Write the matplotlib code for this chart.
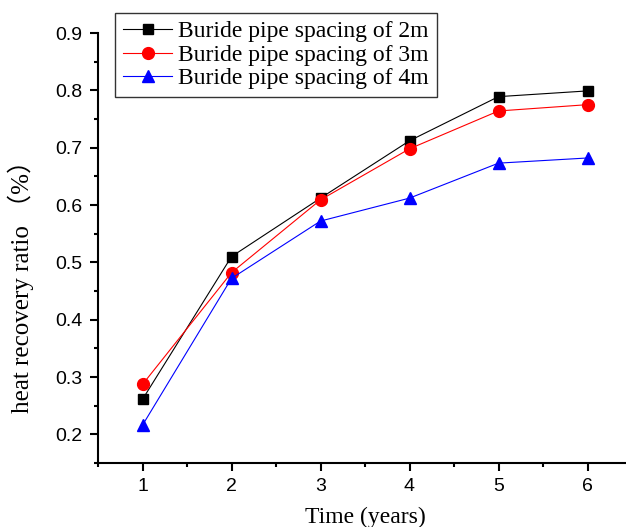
import matplotlib
matplotlib.use("Agg")
import matplotlib.pyplot as plt
from matplotlib.ticker import MultipleLocator

years = [1, 2, 3, 4, 5, 6]
spacing_2m = [0.261, 0.510, 0.612, 0.712, 0.789, 0.799]
spacing_3m = [0.287, 0.482, 0.609, 0.698, 0.764, 0.775]
spacing_4m = [0.216, 0.472, 0.572, 0.612, 0.673, 0.682]
labels = ["Buride pipe spacing of 2m", "Buride pipe spacing of 3m", "Buride pipe spacing of 4m"]

fig = plt.figure(figsize=(6.26, 5.27), dpi=100)
ax = fig.add_axes([98 / 626, 1 - 463 / 527, 534 / 626, 430 / 527])

ax.plot(years, spacing_2m, color="black", marker="s", markersize=7.5, linewidth=0.8, label=labels[0])
ax.plot(years, spacing_3m, color="red", marker="o", markersize=8.5, linewidth=0.8, label=labels[1])
ax.plot(years, spacing_4m, color="blue", marker="^", markersize=8.5, linewidth=0.8, label=labels[2])

ax.set_xlim(0.5, 6.5)
ax.set_ylim(0.15, 0.9)
ax.xaxis.set_major_locator(MultipleLocator(1))
ax.xaxis.set_minor_locator(MultipleLocator(0.5))
ax.yaxis.set_major_locator(MultipleLocator(0.1))
ax.yaxis.set_minor_locator(MultipleLocator(0.05))
ax.spines["top"].set_visible(False)
ax.spines["right"].set_visible(False)
for s in ("left", "bottom"):
    ax.spines[s].set_linewidth(1.5)
ax.tick_params(which="major", direction="out", length=6, width=1.5, labelsize=14, pad=5)
ax.tick_params(which="minor", direction="out", length=3, width=1.5)
for t in ax.get_xticklabels() + ax.get_yticklabels():
    t.set_family("Liberation Sans")

ax.set_xlabel("Time (years)", family="Liberation Serif", fontsize=17, labelpad=8)
ax.set_ylabel("heat recovery ratio （%）", family=["Liberation Serif", "Noto Sans CJK SC"],
              fontsize=18)
ax.yaxis.set_label_coords(-0.12, 0.425)

leg = ax.legend(loc="upper left", bbox_to_anchor=(10 / 534, 1.063),
                prop={"family": "Liberation Serif", "size": 17},
                frameon=True, fancybox=False, edgecolor="black",
                handlelength=2.1, labelspacing=0.085, borderpad=0.33, handletextpad=0.25,
                borderaxespad=0.3)
leg.get_frame().set_linewidth(1.0)

fig.savefig("out.png", dpi=100)
